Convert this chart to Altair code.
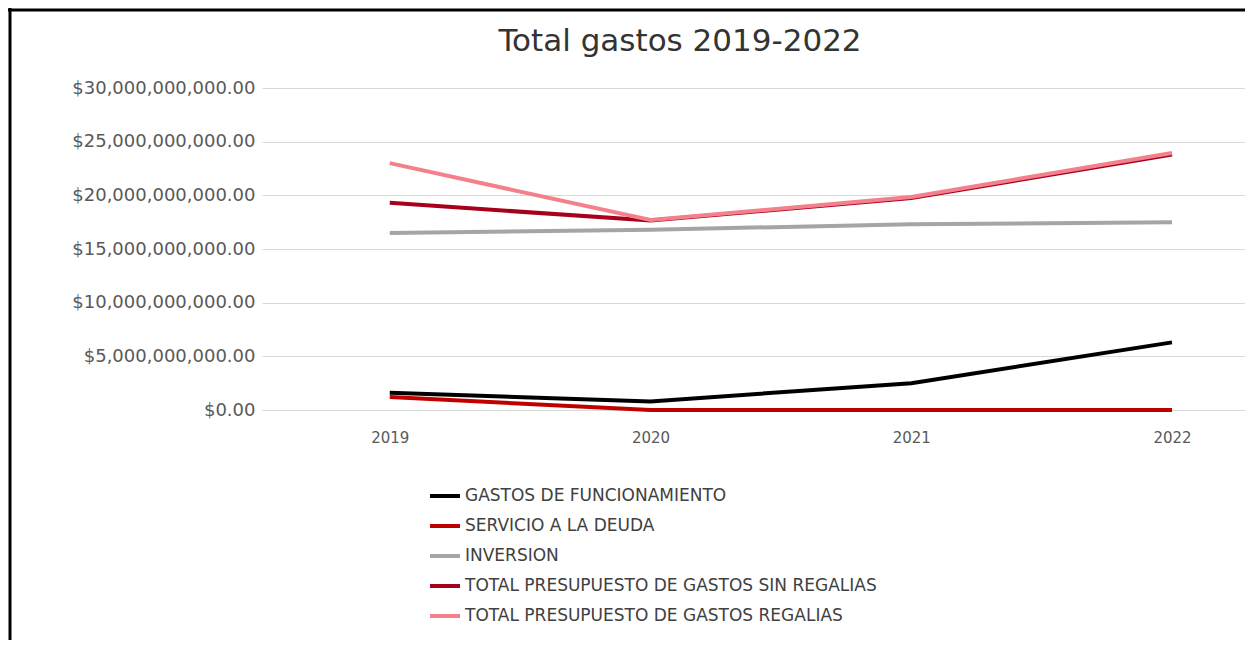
import altair as alt
import pandas as pd

years = [2019, 2020, 2021, 2022]
series = [
    "GASTOS DE FUNCIONAMIENTO",
    "SERVICIO A LA DEUDA",
    "INVERSION",
    "TOTAL PRESUPUESTO DE GASTOS SIN REGALIAS",
    "TOTAL PRESUPUESTO DE GASTOS REGALIAS",
]
gastos_funcionamiento = [1.6e9, 0.8e9, 2.5e9, 6.3e9]
servicio_deuda = [1.2e9, 0.0, 0.0, 0.0]
inversion = [16.5e9, 16.8e9, 17.3e9, 17.5e9]
total_sin_regalias = [19.3e9, 17.65e9, 19.75e9, 23.8e9]
total_regalias = [23.0e9, 17.7e9, 19.85e9, 23.95e9]
y_ticks = [0, 5e9, 10e9, 15e9, 20e9, 25e9, 30e9]
colors = ["#000000", "#C00000", "#A5A5A5", "#A8001C", "#F4808C"]
title_text = "Total gastos 2019-2022"

values = [gastos_funcionamiento, servicio_deuda, inversion, total_sin_regalias, total_regalias]
rows = []
for s, vals in zip(series, values):
    for yr, v in zip(years, vals):
        rows.append({"serie": s, "year": yr, "valor": v})
df = pd.DataFrame(rows)

FONT = "DejaVu Sans"

lines = alt.Chart(df).mark_line(strokeWidth=4, strokeCap="butt").encode(
    x=alt.X("year:Q",
            scale=alt.Scale(domain=[2018.51, 2022.28], nice=False, zero=False),
            axis=alt.Axis(values=years, format="d", title=None, grid=False,
                          ticks=False, domain=True, domainColor="#D9D9D9",
                          labelFont=FONT, labelFontSize=15, labelColor="#595959",
                          labelPadding=20)),
    y=alt.Y("valor:Q",
            scale=alt.Scale(domain=[0, 30e9], nice=False),
            axis=alt.Axis(values=y_ticks, format="$,.2f", title=None,
                          grid=True, gridColor="#D9D9D9", domain=False, ticks=False,
                          labelFont=FONT, labelFontSize=18, labelColor="#595959",
                          labelPadding=7, labelLimit=400)),
    color=alt.Color("serie:N",
                    sort=series,
                    scale=alt.Scale(domain=series, range=colors),
                    legend=alt.Legend(title=None, orient="none", legendX=166, legendY=391,
                                      symbolType="stroke", symbolStrokeWidth=4,
                                      symbolSize=900, labelFont=FONT, labelFontSize=17,
                                      labelColor="#404040", labelLimit=600,
                                      rowPadding=5, labelOffset=3)),
)

frame = pd.DataFrame({"k": [0]})
left_border = alt.Chart(frame).mark_rule(color="#000000", strokeWidth=3).encode(
    x=alt.value(-252), y=alt.value(-80), y2=alt.value(560))
top_border = alt.Chart(frame).mark_rule(color="#000000", strokeWidth=3).encode(
    x=alt.value(-254), x2=alt.value(983), y=alt.value(-78))

title_df = pd.DataFrame({"t": [title_text]})
title = alt.Chart(title_df).mark_text(
    font=FONT, fontSize=31, color="#333333", align="center", baseline="middle"
).encode(text="t:N", x=alt.value(418), y=alt.value(-46))

chart = alt.layer(lines, left_border, top_border, title).properties(
    width=983, height=322,
    padding={"left": 254, "top": 80, "right": 0, "bottom": 230},
    autosize=alt.AutoSizeParams(type="none"),
).configure_view(stroke=None)

chart.save("out.html", embed_options={"renderer": "svg", "actions": False})
